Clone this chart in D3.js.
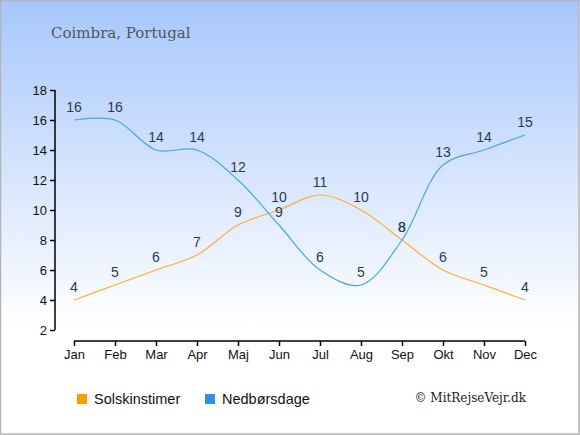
<!DOCTYPE html>
<html>
<head>
<meta charset="utf-8">
<script src="https://cdn.jsdelivr.net/npm/d3@7"></script>
<style>
  body { margin: 0; }
  svg { display: block; }
</style>
</head>
<body>
<div id="chart"></div>
<script>
const months = ["Jan", "Feb", "Mar", "Apr", "Maj", "Jun", "Jul", "Aug", "Sep", "Okt", "Nov", "Dec"];
const sunHours = [4, 5, 6, 7, 9, 10, 11, 10, 8, 6, 5, 4];
const rainDays = [16, 16, 14, 14, 12, 9, 6, 5, 8, 13, 14, 15];
const yTicks = [2, 4, 6, 8, 10, 12, 14, 16, 18];

const width = 580, height = 435;

const svg = d3.select("#chart")
  .append("svg")
  .attr("width", width)
  .attr("height", height);

// background
const grad = svg.append("defs").append("linearGradient")
  .attr("id", "bg")
  .attr("x1", 0).attr("y1", 0).attr("x2", 0).attr("y2", 1);
grad.append("stop").attr("offset", "0%").attr("stop-color", "#a6c7fb");
grad.append("stop").attr("offset", "75%").attr("stop-color", "#ffffff");
grad.append("stop").attr("offset", "100%").attr("stop-color", "#ffffff");

svg.append("rect")
  .attr("x", 0.5).attr("y", 0.5)
  .attr("width", width - 1.5).attr("height", height - 1.5)
  .attr("fill", "url(#bg)")
  .attr("stroke", "#b4b4b4")
  .attr("stroke-width", 1.5);

svg.append("text")
  .attr("x", 51).attr("y", 38)
  .attr("font-family", "'DejaVu Serif', Georgia, serif")
  .attr("font-size", 15)
  .attr("fill", "#555")
  .text("Coimbra, Portugal");

const x = d3.scalePoint()
  .domain(months)
  .range([74, 525]);

const y = d3.scaleLinear()
  .domain([2, 18])
  .range([330, 90]);

// y axis
const yAxis = svg.append("g")
  .attr("transform", "translate(55,0)")
  .call(d3.axisLeft(y).tickValues(yTicks).tickSize(5).tickPadding(3));

// x axis
const xAxis = svg.append("g")
  .attr("transform", "translate(0,341)")
  .call(d3.axisBottom(x).tickSize(5).tickPadding(4));

[yAxis, xAxis].forEach(g => {
  g.select(".domain").attr("stroke", "#000").attr("stroke-width", 1.5);
  g.selectAll(".tick line").attr("stroke", "#000").attr("stroke-width", 1.5);
  g.selectAll(".tick text")
    .attr("font-family", "'Liberation Sans', Arial, sans-serif")
    .attr("font-size", 13)
    .attr("fill", "#111");
});
// no outer ticks on the domain
yAxis.select(".domain").attr("d", `M0,${y(18)}V${y(2)}`);
xAxis.select(".domain").attr("d", `M${x("Jan")},0H${x("Dec")}`);

const line = d3.line()
  .x((d, i) => x(months[i]))
  .y(d => y(d))
  .curve(d3.curveCatmullRom.alpha(0.5));

const series = [
  { name: "Solskinstimer", values: sunHours, color: "#ffac33", key: "#ff9900" },
  { name: "Nedbørsdage", values: rainDays, color: "#4aa3ec", key: "#2e90e6" }
];

series.forEach(s => {
  svg.append("path")
    .datum(s.values)
    .attr("fill", "none")
    .attr("stroke", s.color)
    .attr("stroke-width", 1.2)
    .attr("d", line);

  svg.append("g")
    .selectAll("text")
    .data(s.values)
    .join("text")
    .attr("x", (d, i) => x(months[i]))
    .attr("y", d => y(d) - 8)
    .attr("text-anchor", "middle")
    .attr("font-family", "'Liberation Sans', Arial, sans-serif")
    .attr("font-size", 14)
    .attr("fill", "#2b3a58")
    .text(d => d);
});

// legend
const legend = svg.append("g")
  .selectAll("g")
  .data(series)
  .join("g")
  .attr("transform", (d, i) => `translate(${[77, 205][i]},394)`);

legend.append("rect")
  .attr("width", 10).attr("height", 10)
  .attr("fill", d => d.key);

legend.append("text")
  .attr("x", 17).attr("y", 9.5)
  .attr("font-family", "'Liberation Sans', Arial, sans-serif")
  .attr("font-size", 14.5)
  .attr("fill", "#111")
  .text(d => d.name);

svg.append("text")
  .attr("x", 526).attr("y", 402)
  .attr("text-anchor", "end")
  .attr("font-family", "'DejaVu Serif', Georgia, serif")
  .attr("font-size", 12)
  .attr("fill", "#222")
  .text("© MitRejseVejr.dk");
</script>
</body>
</html>
